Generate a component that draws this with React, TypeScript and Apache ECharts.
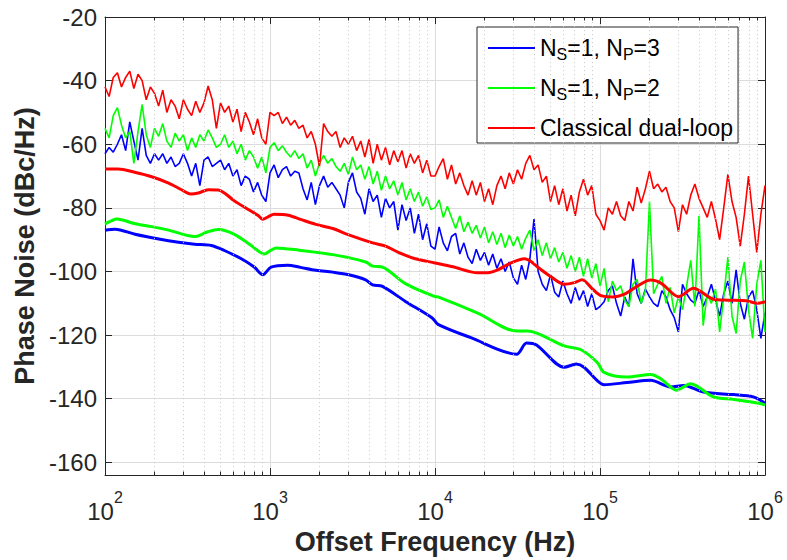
import React, { useEffect, useRef } from 'react';
import * as echarts from 'echarts';

// Frequency grid (Hz) of the measured (noisy) traces
const noiseFreqHz = [
  100, 105.9, 112.2, 118.9, 125.9, 133.4, 141.3, 149.6, 158.5, 167.9, 177.8, 188.4, 199.5, 211.3, 223.9, 237.1, 251.2, 266.1, 281.8, 298.5,
  316.2, 335, 354.8, 375.8, 398.1, 421.7, 446.7, 473.2, 501.2, 530.9, 562.3, 595.7, 631, 668.3, 707.9, 749.9, 794.3, 841.4, 891.3, 944.1,
  1000, 1059, 1122, 1189, 1259, 1334, 1413, 1496, 1585, 1679, 1778, 1884, 1995, 2113, 2239, 2371, 2512, 2661, 2818, 2985,
  3162, 3350, 3548, 3758, 3981, 4217, 4467, 4732, 5012, 5309, 5623, 5957, 6310, 6683, 7079, 7499, 7943, 8414, 8913, 9441,
  10000, 10590, 11220, 11890, 12590, 13340, 14130, 14960, 15850, 16790, 17780, 18840, 19950, 21130, 22390, 23710, 25120, 26610, 28180, 29850,
  31620, 33500, 35480, 37580, 39810, 42170, 44670, 47320, 50120, 53090, 56230, 59570, 63100, 66830, 70790, 74990, 79430, 84140, 89130, 94410,
  100000, 105900, 112200, 118900, 125900, 133400, 141300, 149600, 158500, 167900, 177800, 188400, 199500, 211300, 223900, 237100, 251200, 266100, 281800, 298500,
  316200, 335000, 354800, 375800, 398100, 421700, 446700, 473200, 501200, 530900, 562300, 595700, 631000, 668300, 707900, 749900, 794300, 841400, 891300, 944100,
  1000000,
];

const blueNoisy = [
  -63, -61, -62.5, -60, -57, -62, -53, -59, -65, -55, -63.5, -66, -63, -65, -63, -66, -64, -67, -66, -63,
  -66, -70, -66, -73, -65, -64, -67, -66, -65, -68, -66, -70, -68, -73, -70, -71, -75, -72, -76, -78,
  -69, -66.5, -70.5, -68, -67, -70, -68.5, -69, -74, -77.5, -72, -79, -73, -70, -73.5, -72, -74, -76, -80, -72,
  -69, -75, -77, -82, -74, -78, -76, -83, -77, -80, -78, -87, -79, -84, -80, -88, -82, -90, -85, -92,
  -93, -86, -91, -93.5, -89, -88, -94.5, -91, -95.5, -97.5, -93, -96.5, -94, -98, -94.5, -99, -96, -100, -97, -102,
  -104, -98, -102.5, -96, -83.5, -100, -104, -106, -101, -106.5, -108, -103, -107, -110, -105, -109, -106, -111, -107, -112,
  -111, -109.5, -106, -104.5, -110, -114, -108, -111, -96, -107, -110, -105.5, -108, -110, -111, -106, -108, -112, -114.5, -119,
  -104, -107, -109, -110, -106, -111, -108, -104, -109, -114, -107, -103, -110, -99.5, -110, -115, -108, -106, -112, -121,
  -113,
];

const greenNoisy = [
  -55, -58, -51, -48.5, -54, -58, -56, -66, -56, -47.5, -57, -61, -55, -57.5, -53.5, -59, -61, -56.5, -59, -57,
  -62, -58, -61, -57, -59, -55.5, -58, -61, -60, -57, -61, -59, -63, -60, -65, -62, -64, -67.5, -64, -69,
  -61, -59.5, -62, -60.5, -62.5, -64, -62, -64.5, -63, -67.5, -65, -70, -66, -63.5, -66, -64.5, -67, -68.5, -66, -69.5,
  -64, -68, -66.5, -71, -67, -72.5, -68.5, -74.5, -70, -74, -71.5, -76, -72, -77.5, -74, -78, -75, -79.5, -76.5, -80.5,
  -80, -77.5, -83, -79.5, -83, -86.5, -82.5, -87.5, -84.5, -88, -85.5, -89.5, -86, -91, -87.5, -91.5, -88, -92.5, -88.5, -92,
  -89, -93, -89.5, -87, -93.5, -90, -95, -91, -96, -92.5, -97, -94, -99, -95, -100, -95.5, -101.5, -96, -102, -97.5,
  -104.5, -99, -109.5, -103, -106, -104.5, -109, -111, -104, -102.5, -110, -106, -78, -107, -104, -101.5, -110, -105, -113, -108,
  -112, -104.5, -96.5, -111, -82.5, -117, -107, -110, -105.5, -119, -108, -95.5, -114, -119.5, -103, -97, -112, -121, -104, -96.5,
  -119,
];

const redNoisy = [
  -42, -45, -39, -37.5, -42, -39, -37, -42.5, -38, -40, -46, -42, -44, -48, -43, -50, -46, -48, -52, -46,
  -49, -51, -46.5, -50, -47, -41.7, -46, -55, -47, -50, -48, -53, -49, -56, -50, -53, -57, -52, -58, -60,
  -50, -51, -50, -53.5, -51.5, -54, -52.5, -55, -54, -58, -56, -60, -67, -53.5, -56, -57.5, -56, -61, -58, -60,
  -57.5, -62, -59, -64, -58.5, -66, -60, -65, -61, -66.5, -62, -65.5, -62, -67.5, -63, -66, -63.5, -69, -65, -70,
  -70, -67, -64.5, -71, -66.5, -72.5, -69, -73, -76, -71.5, -76, -72, -78, -74, -79, -73, -70, -74, -69, -72.5,
  -68, -71, -66, -63.5, -68, -66.5, -72, -70, -78, -73, -79, -74, -81, -76, -82.5, -75, -71, -76, -73, -82,
  -84, -87, -80, -82, -78, -82.5, -84, -78, -81, -73.5, -78.5, -74, -68.5, -74, -72.5, -75, -73.5, -78, -80, -87.5,
  -79, -82, -76, -72.5, -77, -80, -83, -78, -83.5, -90, -80, -69.5, -78, -83, -92, -82, -70, -82, -94, -82,
  -73,
];

// Smoothed / model traces: [frequency Hz, dBc/Hz]
const blueSmooth = [
  [100, -87], [115, -86.7], [152, -88.3], [212, -89.8], [279, -90.8], [349, -91.4], [441, -91.8], [529, -93.4],
  [670, -96], [802, -98.6], [905, -101], [1015, -98.6], [1280, -98], [1530, -98.7], [1900, -99.6], [2400, -100.2],
  [3000, -101], [3798, -102.6], [4184, -104.2], [4807, -104.7], [6615, -109.4], [9618, -114.6], [10420, -116.6],
  [16500, -120.8], [31220, -126], [35880, -122.5], [41220, -123.1], [60650, -130.1], [71850, -129.1], [80000, -130.1],
  [96300, -134.3], [105800, -135.6], [145600, -134.9], [203000, -134.2], [268000, -136.3], [321000, -135.8],
  [424000, -137.9], [643000, -138.7], [849000, -139.4], [976000, -141], [1000000, -141.5],
];

const greenSmooth = [
  [100, -85], [110, -84], [118, -83.5], [152, -85], [192, -85.9], [243, -87], [349, -89], [420, -87.5], [486, -86.8],
  [608, -88.3], [769, -91.8], [922, -94.5], [1015, -93.3], [1088, -92.6], [1500, -93.3], [2402, -94.7], [3798, -97],
  [4184, -98.3], [4807, -98.6], [6615, -103.8], [10000, -107.9], [10420, -108], [18150, -113.1], [31220, -118.7],
  [36300, -118.7], [60650, -123.4], [76700, -124.6], [96300, -128.6], [105800, -131.7], [145600, -133.2],
  [203000, -132.4], [233300, -133.7], [291400, -137.3], [353800, -135.3], [487000, -139.4], [643000, -140.2],
  [936000, -141.5], [1000000, -142],
];

const redSmooth = [
  [100, -67.8], [120, -67.8], [151, -68.8], [192, -70.2], [243, -72.2], [291, -74.3], [330, -75.6], [368, -75.3],
  [423, -74.3], [486, -74.4], [529, -75.3], [608, -77.8], [738, -80.5], [848, -82.4], [905, -83.6], [974, -82.8],
  [1060, -82], [1290, -82.3], [1530, -83.6], [1900, -85.2], [2400, -86.5], [3000, -88.5], [4184, -91], [5012, -92],
  [6000, -94], [7600, -96], [10000, -97.3], [12800, -98.5], [18150, -100.4], [21460, -100.3], [24000, -99.5],
  [28340, -97.5], [34850, -96], [38000, -96.8], [41690, -98.5], [50000, -101.5], [60650, -104], [70000, -103.5],
  [77900, -102.6], [90000, -105.5], [101400, -107.6], [120000, -108], [139600, -107.2], [160400, -105.3],
  [203000, -102.7], [236300, -103.8], [299000, -107.9], [368400, -105.3], [486000, -108.7], [600000, -109],
  [769000, -109.2], [900000, -110], [1000000, -109.5],
];

// Minor (log) grid positions
const minorGridHz = [
  200, 300, 400, 500, 600, 700, 800, 900,
  2000, 3000, 4000, 5000, 6000, 7000, 8000, 9000,
  20000, 30000, 40000, 50000, 60000, 70000, 80000, 90000,
  200000, 300000, 400000, 500000, 600000, 700000, 800000, 900000,
];

const seriesNames = ['NS=1, NP=3', 'NS=1, NP=2', 'Classical dual-loop'];
const seriesColors = ['#0000ff', '#00ff00', '#ff0000'];
const legendLabels: Record<string, string> = {
  'NS=1, NP=3': '{t|N}{s|S}{t|=1, N}{s|P}{t|=3}',
  'NS=1, NP=2': '{t|N}{s|S}{t|=1, N}{s|P}{t|=2}',
  'Classical dual-loop': '{t|Classical dual-loop}',
};

const Y_MIN = -164;
const Y_MAX = -20;
const FONT = '"Liberation Sans", Arial, Helvetica, sans-serif';
const AXIS_COLOR = '#262626';

export default function App() {
  const ref = useRef<HTMLDivElement>(null);
  useEffect(() => {
    if (!ref.current) return;
    const chart = echarts.init(ref.current, undefined, { renderer: 'svg' });
    const zip = (vals: number[]) => noiseFreqHz.map((f, i) => [f, vals[i]]);

    const minorLines: any[] = [];
    minorGridHz.forEach((f) => {
      minorLines.push({ xAxis: f, lineStyle: { color: '#c8c8c8', type: [1, 3], width: 1 } });
      minorLines.push([
        { coord: [f, Y_MIN], lineStyle: { color: AXIS_COLOR, type: 'solid', width: 1 } },
        { coord: [f, Y_MIN + 1.1] },
      ]);
      minorLines.push([
        { coord: [f, Y_MAX], lineStyle: { color: AXIS_COLOR, type: 'solid', width: 1 } },
        { coord: [f, Y_MAX - 1.1] },
      ]);
    });

    const noisy = (idx: number, vals: number[]) => ({
      type: 'line', name: seriesNames[idx], data: zip(vals), showSymbol: false, symbol: 'none',
      lineStyle: { color: seriesColors[idx], width: 1.6 }, itemStyle: { color: seriesColors[idx] },
      emphasis: { disabled: true }, silent: true, z: 3,
    });
    const smooth = (idx: number, pts: number[][]) => ({
      type: 'line', name: seriesNames[idx], data: pts, showSymbol: false, symbol: 'none', smooth: 0.3,
      lineStyle: { color: seriesColors[idx], width: 3 }, itemStyle: { color: seriesColors[idx] },
      emphasis: { disabled: true }, silent: true, z: 3,
    });

    const labelRich = {
      b: { fontSize: 24, color: AXIS_COLOR, fontFamily: FONT, lineHeight: 34, verticalAlign: 'bottom' },
      s: { fontSize: 16, color: AXIS_COLOR, fontFamily: FONT, verticalAlign: 'top' },
    };

    chart.setOption({
      animation: false,
      backgroundColor: '#ffffff',
      textStyle: { fontFamily: FONT },
      grid: { left: 105, right: 22, top: 17, bottom: 80, containLabel: false },
      legend: {
        data: seriesNames,
        orient: 'vertical',
        left: 477,
        top: 27,
        padding: [7, 5, 1, 11],
        itemGap: 12,
        itemWidth: 47,
        itemHeight: 2,
        icon: 'rect',
        backgroundColor: '#ffffff',
        borderColor: AXIS_COLOR,
        borderWidth: 1,
        borderRadius: 0,
        selectedMode: false,
        formatter: (name: string) => legendLabels[name] || name,
        textStyle: {
          fontFamily: FONT, fontSize: 23, color: '#000', lineHeight: 28,
          rich: {
            t: { fontSize: 23, color: '#000', fontFamily: FONT, lineHeight: 28 },
            s: { fontSize: 16, color: '#000', fontFamily: FONT, verticalAlign: 'bottom' },
          },
        },
      },
      xAxis: [
        {
          type: 'log', logBase: 10, min: 100, max: 1000000, position: 'bottom',
          axisLine: { show: true, onZero: false, lineStyle: { color: AXIS_COLOR, width: 1 } },
          axisTick: { show: true, inside: true, length: 7, lineStyle: { color: AXIS_COLOR } },
          axisLabel: {
            margin: 14,
            formatter: (v: number) => `{b|10}{s|${Math.round(Math.log10(v))}}`,
            rich: labelRich,
          },
          splitLine: { show: true, lineStyle: { color: '#dcdcdc', width: 1 } },
          name: 'Offset Frequency (Hz)', nameLocation: 'middle', nameGap: 49,
          nameTextStyle: { fontSize: 27, fontWeight: 'bold', color: AXIS_COLOR, fontFamily: FONT },
        },
        {
          type: 'log', logBase: 10, min: 100, max: 1000000, position: 'top',
          axisLine: { show: true, onZero: false, lineStyle: { color: AXIS_COLOR, width: 1 } },
          axisTick: { show: true, inside: true, length: 7, lineStyle: { color: AXIS_COLOR } },
          axisLabel: { show: false },
          splitLine: { show: false },
        },
      ],
      yAxis: [
        {
          type: 'value', min: Y_MIN, max: Y_MAX, splitNumber: 7, position: 'left',
          axisLine: { show: true, onZero: false, lineStyle: { color: AXIS_COLOR, width: 1 } },
          axisTick: { show: true, inside: true, length: 7, lineStyle: { color: AXIS_COLOR } },
          axisLabel: {
            margin: 8, fontSize: 24, color: AXIS_COLOR, fontFamily: FONT,
            formatter: (v: number) => (Math.round(v) % 20 === 0 ? String(v) : ''),
          },
          splitLine: { show: true, lineStyle: { color: '#dcdcdc', width: 1 } },
          name: 'Phase Noise (dBc/Hz)', nameLocation: 'middle', nameGap: 53,
          nameTextStyle: { fontSize: 27, fontWeight: 'bold', color: AXIS_COLOR, fontFamily: FONT },
        },
        {
          type: 'value', min: Y_MIN, max: Y_MAX, splitNumber: 7, position: 'right',
          axisLine: { show: true, onZero: false, lineStyle: { color: AXIS_COLOR, width: 1 } },
          axisTick: { show: true, inside: true, length: 7, lineStyle: { color: AXIS_COLOR } },
          axisLabel: { show: false },
          splitLine: { show: false },
        },
      ],
      series: [
        {
          type: 'line', name: 'minor-grid', data: [], silent: true, z: 1,
          markLine: {
            silent: true, symbol: ['none', 'none'], label: { show: false },
            emphasis: { disabled: true }, animation: false, data: minorLines,
          },
        },
        noisy(0, blueNoisy),
        smooth(0, blueSmooth),
        noisy(1, greenNoisy),
        smooth(1, greenSmooth),
        noisy(2, redNoisy),
        smooth(2, redSmooth),
      ],
    });
    return () => chart.dispose();
  }, []);
  return (
    <div
      ref={ref}
      style={{ position: 'absolute', left: 0, top: 0, width: 787, height: 560, background: '#fff' }}
    />
  );
}
